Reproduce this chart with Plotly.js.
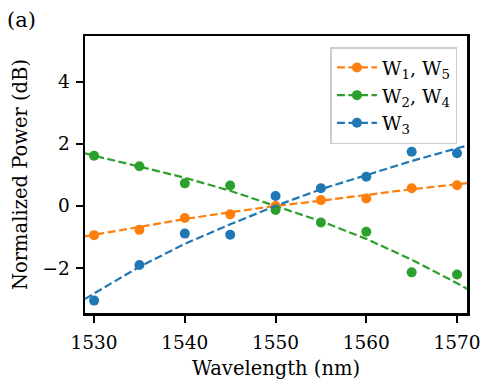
<!DOCTYPE html>
<html><head><meta charset="utf-8">
<script src="https://cdn.plot.ly/plotly-3.0.1.min.js"></script>
<style>html,body{margin:0;padding:0;background:#fff}#c{width:481px;height:384px}</style>
</head><body><div id="c"></div>
<script>
const wavelengths = [1530, 1535, 1540, 1545, 1550, 1555, 1560, 1565, 1570];
const w15 = [-0.94, -0.77, -0.39, -0.27, 0.0, 0.19, 0.24, 0.57, 0.67];
const w24 = [1.62, 1.28, 0.73, 0.66, -0.13, -0.53, -0.83, -2.14, -2.21];
const w3 = [-3.05, -1.90, -0.89, -0.93, 0.32, 0.57, 0.94, 1.75, 1.70];

const fitX = [1529, 1530, 1535, 1540, 1545, 1550, 1555, 1560, 1565, 1570, 1571.2];
const fit15 = [-0.98, -0.93, -0.66, -0.42, -0.2, 0.0, 0.17, 0.36, 0.54, 0.70, 0.74];
const fit24 = [1.70, 1.62, 1.27, 0.91, 0.49, 0.0, -0.49, -1.06, -1.73, -2.49, -2.68];
const fit3 = [-3.0, -2.82, -1.96, -1.22, -0.59, 0.0, 0.54, 1.0, 1.45, 1.86, 1.95];

const names = ['W<sub>1</sub>, W<sub>5</sub>', 'W<sub>2</sub>, W<sub>4</sub>', 'W<sub>3</sub>'];
const colors = ['#ff7f0e', '#2ca02c', '#1f77b4'];
const pts = [w15, w24, w3];
const fits = [fit15, fit24, fit3];

const traces = [];
for (let i = 0; i < 3; i++) {
  traces.push({x: fitX, y: fits[i], mode: 'lines', showlegend: false, hoverinfo: 'skip',
    line: {color: colors[i], width: 2.2, dash: '8px,3.5px'}});
  traces.push({x: wavelengths, y: pts[i], mode: 'markers', showlegend: false,
    marker: {color: colors[i], size: 10}});
}
for (let i = 0; i < 3; i++) {
  traces.push({x: [null], y: [null], mode: 'lines+markers', name: names[i],
    line: {color: colors[i], width: 2.2, dash: '8px,3.5px'}, marker: {color: colors[i], size: 10}});
}

const font = {family: 'DejaVu Serif', color: '#000'};
const f = s => Object.assign({size: s}, font);
const layout = {
  width: 481, height: 384,
  margin: {l: 85, r: 14, t: 36, b: 71},
  paper_bgcolor: '#fff', plot_bgcolor: '#fff',
  font: f(19),
  xaxis: {range: [1529.0, 1571.1], tickvals: [1530, 1540, 1550, 1560, 1570],
    ticks: 'outside', ticklen: 7, tickwidth: 2, tickcolor: '#000',
    showline: true, linewidth: 2.5, linecolor: '#000', mirror: true,
    showgrid: false, zeroline: false, ticklabelstandoff: 4,
    tickfont: f(18.5),
    title: {text: 'Wavelength (nm)', font: f(19.5), standoff: 10}},
  yaxis: {range: [-3.45, 5.48], tickvals: [-2, 0, 2, 4], ticktext: ['\u22122', '0', '2', '4'],
    ticks: 'outside', ticklen: 7, tickwidth: 2, tickcolor: '#000',
    showline: true, linewidth: 2.5, linecolor: '#000', mirror: true,
    showgrid: false, zeroline: false, ticklabelstandoff: 2,
    tickfont: f(18.5),
    title: {text: 'Normalized Power (dB)', font: f(19.5), standoff: 10}},
  legend: {x: 0.975, y: 0.96, xanchor: 'right', yanchor: 'top',
    bgcolor: 'rgba(255,255,255,0.85)', bordercolor: '#cccccc', borderwidth: 1.5,
    font: f(19), tracegroupgap: 0, itemwidth: 40},
  annotations: [{text: '(a)', xref: 'paper', yref: 'paper', x: -0.21, y: 1.11,
    xanchor: 'left', yanchor: 'top', showarrow: false, font: f(21)}],
  showlegend: true
};
Plotly.newPlot('c', traces, layout, {displayModeBar: false, staticPlot: true});
</script></body></html>
